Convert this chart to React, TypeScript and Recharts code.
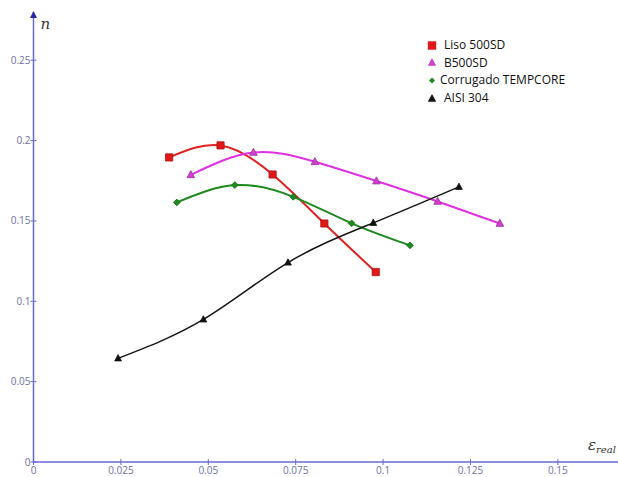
import React from "react";
import { LineChart, Line, XAxis, YAxis, Legend } from "recharts";

// Strain (ε_real) vs. strain-hardening exponent (n) for four steels
const lisoX = [0.0388, 0.0535, 0.0684, 0.0832, 0.0979];
const lisoY = [0.1895, 0.197, 0.1789, 0.1484, 0.1182];

const b500X = [0.045, 0.0629, 0.0805, 0.0981, 0.1156, 0.1334];
const b500Y = [0.1787, 0.1926, 0.1868, 0.1748, 0.1621, 0.1484];

const tempcoreX = [0.041, 0.0576, 0.0743, 0.091, 0.1077];
const tempcoreY = [0.1615, 0.1723, 0.165, 0.1485, 0.1348];

const aisiX = [0.0242, 0.0486, 0.0728, 0.0972, 0.1217];
const aisiY = [0.0645, 0.0887, 0.1241, 0.1488, 0.1712];

const xTicks = [0, 0.025, 0.05, 0.075, 0.1, 0.125, 0.15];
const yTicks = [0, 0.05, 0.1, 0.15, 0.2, 0.25];

const seriesNames = ["Liso 500SD", "B500SD", "Corrugado TEMPCORE", "AISI 304"];

const toPoints = (xs: number[], ys: number[]) => xs.map((x, i) => ({ x, n: ys[i] }));

type Shape = "square" | "triangle" | "diamond";

const AXIS = "#6a6ad6";
const TICK_TEXT = "#6f6fa8";
const FONT = "'Open Sans', 'Noto Sans', sans-serif";

function markerPath(shape: Shape, cx: number, cy: number, r: number) {
  if (shape === "square") return `M${cx - r},${cy - r}h${2 * r}v${2 * r}h${-2 * r}Z`;
  if (shape === "diamond") return `M${cx},${cy - r}L${cx + r},${cy}L${cx},${cy + r}L${cx - r},${cy}Z`;
  return `M${cx},${cy - r * 1.1}L${cx + r},${cy + r * 0.75}L${cx - r},${cy + r * 0.75}Z`;
}

const makeDot = (shape: Shape, fill: string, stroke: string, r: number) => (props: any) => {
  const { cx, cy, index } = props;
  if (cx == null || cy == null) return <g key={index} />;
  return <path key={index} d={markerPath(shape, cx, cy, r)} fill={fill} stroke={stroke} strokeWidth={0.8} />;
};

const series = [
  { name: seriesNames[0], data: toPoints(lisoX, lisoY), color: "#e02222", fill: "#e01818", edge: "#b01010", shape: "square" as Shape, r: 3.6, width: 2 },
  { name: seriesNames[1], data: toPoints(b500X, b500Y), color: "#e030e0", fill: "#d040d0", edge: "#a030a0", shape: "triangle" as Shape, r: 3.8, width: 2 },
  { name: seriesNames[2], data: toPoints(tempcoreX, tempcoreY), color: "#1e8a1e", fill: "#1e8a1e", edge: "#166a16", shape: "diamond" as Shape, r: 3.4, width: 2 },
  { name: seriesNames[3], data: toPoints(aisiX, aisiY), color: "#151515", fill: "#111111", edge: "#111111", shape: "triangle" as Shape, r: 3.4, width: 1.5 },
];

const YTick = (props: any) => {
  const { x, y, payload } = props;
  return (
    <g>
      <line x1={x} x2={x + 6} y1={y} y2={y} stroke={AXIS} strokeWidth={1} />
      <text x={x} y={y} dy="0.35em" textAnchor="end" fontSize={10} fill={TICK_TEXT} fontFamily={FONT}>
        {payload.value}
      </text>
    </g>
  );
};

const XTick = (props: any) => {
  const { x, y, payload } = props;
  return (
    <g>
      <line x1={x} x2={x} y1={y - 3} y2={y + 3} stroke={AXIS} strokeWidth={1} />
      <text x={x} y={y + 4} dy="0.75em" textAnchor="middle" fontSize={10} fill={TICK_TEXT} fontFamily={FONT}>
        {payload.value}
      </text>
    </g>
  );
};

const YAxisHead = (props: any) => {
  const vb = props.viewBox || {};
  const ax = vb.x + vb.width;
  const top = vb.y;
  return (
    <g>
      <path d={`M${ax - 3.5},${top + 6}L${ax},${top - 1}L${ax + 3.5},${top + 6}Z`} fill="#2a2aa0" />
      <text x={ax + 7} y={top + 17} fontSize={15} fontStyle="italic" fontFamily="'DejaVu Serif', serif" fill="#333">
        n
      </text>
    </g>
  );
};

const XAxisName = (props: any) => {
  const vb = props.viewBox || {};
  const right = vb.x + vb.width;
  const ay = vb.y;
  return (
    <text x={right - 30} y={ay - 12} fontFamily="'DejaVu Serif', serif" fontStyle="italic" fill="#333">
      <tspan fontSize={15}>ε</tspan>
      <tspan fontSize={10} dy={3}>real</tspan>
    </text>
  );
};

const LegendBox = () => (
  <div style={{ fontFamily: "'Open Sans', sans-serif", fontSize: 12, color: "#111", lineHeight: "17.6px" }}>
    {series.map((s) => (
      <div key={s.name} style={{ display: "flex", alignItems: "center", whiteSpace: "nowrap" }}>
        <svg width={14} height={12} style={{ marginRight: s.shape === "diamond" ? 1 : 5 }}>
          <path d={markerPath(s.shape, 7, 6.5, s.shape === "diamond" ? 3 : 4.2)} fill={s.fill} />
        </svg>
        <span>{s.name}</span>
      </div>
    ))}
  </div>
);

export default function App() {
  return (
    <div style={{ position: "absolute", left: 0, top: 0, width: 618, height: 477, background: "#fff" }}>
      <LineChart width={618} height={477} margin={{ top: 12, right: 0, bottom: 0, left: 0 }}>
        <XAxis
          type="number"
          dataKey="x"
          domain={[0, 0.1672]}
          ticks={xTicks}
          allowDataOverflow
          height={15}
          tickSize={0}
          tickMargin={0}
          tick={<XTick />}
          axisLine={{ stroke: AXIS, strokeWidth: 1.5 }}
          tickLine={false}
          label={<XAxisName />}
        />
        <YAxis
          type="number"
          dataKey="n"
          domain={[0, 0.28]}
          ticks={yTicks}
          allowDataOverflow
          width={33.5}
          tickSize={3}
          tickMargin={0}
          tick={<YTick />}
          axisLine={{ stroke: AXIS, strokeWidth: 1.5 }}
          tickLine={false}
          label={<YAxisHead />}
        />
        <Legend
          layout="vertical"
          align="center"
          verticalAlign="middle"
          content={<LegendBox />}
          wrapperStyle={{ top: 36, left: 425, width: "auto", height: "auto" }}
        />
        {series.map((s) => (
          <Line
            key={s.name}
            name={s.name}
            data={s.data}
            dataKey="n"
            type="natural"
            stroke={s.color}
            strokeWidth={s.width}
            dot={makeDot(s.shape, s.fill, s.edge, s.r)}
            activeDot={false}
            isAnimationActive={false}
          />
        ))}
      </LineChart>
    </div>
  );
}
